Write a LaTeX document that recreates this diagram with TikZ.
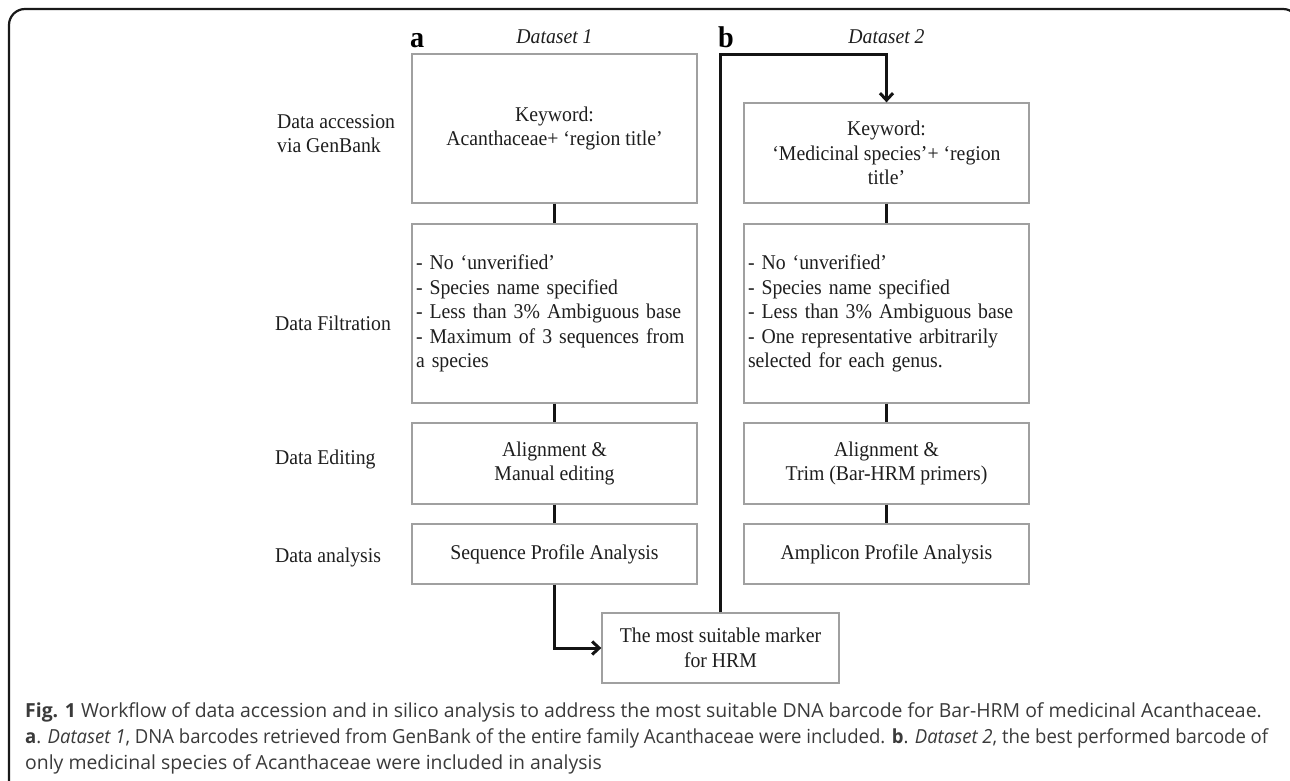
\documentclass[tikz,border=0pt]{standalone}
\usepackage{graphicx}
\usepackage{fontspec}
\setmainfont{Liberation Serif}[FakeStretch=0.94]
\newfontfamily\capfont{Open Sans}
\usetikzlibrary{arrows.meta}
\definecolor{boxgray}{HTML}{A0A0A0}
\definecolor{txt}{HTML}{1E1E1E}
\definecolor{captxt}{HTML}{3A3A3A}
\newcommand\mainsz{\fontsize{21}{24.5}\selectfont}
\newcommand\capsz{\capfont\fontsize{19.4}{21}\selectfont}
\tikzset{
  stepbox/.style={draw=boxgray, line width=1.3pt, minimum width=285pt, inner sep=5pt, font=\mainsz, text=txt, align=center},
  listbox/.style={stepbox, text width=277pt, inner xsep=4pt, align=left},
  conn/.style={line width=3pt, draw=black!92},
  arr/.style={conn, -{Straight Barb[length=7pt,width=13pt]}},
  lbl/.style={anchor=base west, font=\mainsz, text=txt, inner sep=0pt},
  captext/.style={anchor=base west, font=\capsz, text=captxt, inner sep=0pt},
  panel/.style={anchor=base west, font=\fontsize{30}{30}\selectfont\bfseries, text=black, inner sep=0pt},
  dsname/.style={anchor=base, font=\mainsz\itshape, text=txt, inner sep=0pt}
}
\begin{document}
\begin{tikzpicture}[x=1pt,y=-1pt]
\useasboundingbox (0,0) rectangle (1290,780);
\fill[white] (0,0) rectangle (1290,780);
\draw[line width=2.2pt, draw=black!90, rounded corners=16pt] (9,9) rectangle (1299,800);

% panel letters and titles
\node[panel] (pa) at (410,47) {a};
\node[dsname] (ds1) at (554.5,43) {Dataset 1};
\node[panel] (pb) at (718,47) {b};
\node[dsname] (ds2) at (886.5,43) {Dataset 2};

% row labels
\node[lbl] (l1a) at (277,128) {Data accession};
\node[lbl] (l1b) at (277,152) {via GenBank};
\node[lbl] (l2) at (275,330) {Data Filtration};
\node[lbl] (l3) at (275,464) {Data Editing};
\node[lbl] (l4) at (275,562) {Data analysis};

% column a
\node[stepbox, minimum height=149pt] (a1) at (554.5,128.5) {Keyword:\\Acanthaceae+ ‘region title’};
\node[listbox, minimum height=179pt] (a2) at (554.5,313.5) {- No ‘unverified’\\- Species name specified\\- Less than 3\% Ambiguous base\\- Maximum of 3 sequences from\\a species};
\node[stepbox, minimum height=81pt] (a3) at (554.5,463.5) {Alignment \&\\Manual editing};
\node[stepbox, minimum height=60pt] (a4) at (554.5,554) {Sequence Profile Analysis};

% column b
\node[stepbox, minimum height=100pt] (b1) at (886.5,153) {Keyword:\\‘Medicinal species’+ ‘region\\title’};
\node[listbox, minimum height=179pt] (b2) at (886.5,313.5) {- No ‘unverified’\\- Species name specified\\- Less than 3\% Ambiguous base\\- One representative arbitrarily\\selected for each genus.};
\node[stepbox, minimum height=81pt] (b3) at (886.5,463.5) {Alignment \&\\Trim (Bar-HRM primers)};
\node[stepbox, minimum height=60pt] (b4) at (886.5,554) {Amplicon Profile Analysis};

% result
\node[stepbox, minimum width=237pt, minimum height=70pt] (hrm) at (720.5,648) {The most suitable marker\\for HRM};

% connectors
\draw[conn] (a1.south) -- (a2.north);
\draw[conn] (a2.south) -- (a3.north);
\draw[conn] (a3.south) -- (a4.north);
\draw[conn] (b1.south) -- (b2.north);
\draw[conn] (b2.south) -- (b3.north);
\draw[conn] (b3.south) -- (b4.north);
\draw[arr] (a4.south) |- (hrm.west);
\coordinate (bturn) at (720.5,54);
\draw[arr] (hrm.north) -- (bturn) -| (b1.north);

% caption
\node[captext] (c1) at (25,717) {\textbf{Fig. 1} Workflow of data accession and in silico analysis to address the most suitable DNA barcode for Bar-HRM of medicinal Acanthaceae.};
\node[captext] (c2) at (25,743) {\resizebox{1243pt}{\height}{\textbf{a}. \textit{Dataset 1}, DNA barcodes retrieved from GenBank of the entire family Acanthaceae were included. \textbf{b}. \textit{Dataset 2}, the best performed barcode of}};
\node[captext] (c3) at (25,769) {only medicinal species of Acanthaceae were included in analysis};
\end{tikzpicture}
\end{document}
